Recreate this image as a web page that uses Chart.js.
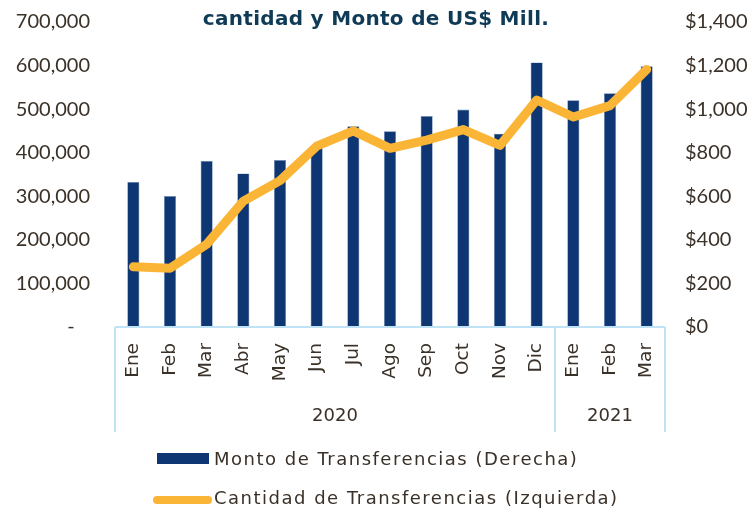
<!DOCTYPE html>
<html>
<head>
<meta charset="utf-8">
<script src="https://cdn.jsdelivr.net/npm/chart.js@4/dist/chart.umd.min.js"></script>
<style>
  html, body { margin: 0; padding: 0; background: #ffffff; }
  #wrap { position: relative; width: 754px; height: 508px; overflow: hidden; }
  canvas { display: block; }
</style>
</head>
<body>
<div id="wrap"><canvas id="c" width="754" height="508"></canvas></div>
<script>
// ---- data ----
const months = ["Ene","Feb","Mar","Abr","May","Jun","Jul","Ago","Sep","Oct","Nov","Dic","Ene","Feb","Mar"];
const years = ["2020","2021"];
const yearSpans = [12, 3];
const montoUSD = [666, 601, 763, 705, 766, 830, 922, 899, 968, 998, 887, 1214, 1041, 1073, 1197];
const cantidad = [138000, 135000, 190000, 289000, 336000, 415000, 450000, 410000, 429000, 453000, 417000, 521000, 482000, 508000, 591000];
const titleText = "cantidad y Monto de US$ Mill.";
const labelMonto = "Monto de Transferencias (Derecha)";
const labelCantidad = "Cantidad de Transferencias (Izquierda)";

const NUMFONT = "Lato, 'Noto Sans', sans-serif";
const WORDFONT = "'DejaVu Sans', 'Noto Sans', sans-serif";
const TEXT = "#3a3128";
const AXIS_LINE = "#bfe2f5";
const NAVY = "#0d3673";
const ORANGE = "#fbb536";

const groupAxisPlugin = {
  id: "groupAxis",
  afterDraw(chart) {
    const ctx = chart.ctx;
    const x = chart.scales.x;
    const area = chart.chartArea;
    const step = x.getPixelForValue(1) - x.getPixelForValue(0);
    const bottom = 432;
    ctx.save();
    ctx.strokeStyle = AXIS_LINE;
    ctx.lineWidth = 2;
    ctx.beginPath();
    ctx.moveTo(area.left, area.bottom);
    ctx.lineTo(area.right, area.bottom);
    let idx = 0;
    const bounds = [x.getPixelForValue(0) - step / 2];
    yearSpans.forEach(n => { idx += n; bounds.push(x.getPixelForValue(idx - 1) + step / 2); });
    bounds.forEach(b => { ctx.moveTo(b, area.bottom); ctx.lineTo(b, bottom); });
    ctx.stroke();
    // year labels
    ctx.fillStyle = TEXT;
    ctx.font = "18px " + WORDFONT;
    ctx.textAlign = "center";
    ctx.textBaseline = "middle";
    years.forEach((y, i) => {
      ctx.fillText(y, (bounds[i] + bounds[i + 1]) / 2, 416);
    });
    // title (visible line)
    ctx.fillStyle = "#0f3b57";
    ctx.font = "bold 20px " + WORDFONT;
    ctx.letterSpacing = "0.3px";
    ctx.fillText(titleText, 376, 20);
    // legend
    ctx.textAlign = "left";
    ctx.fillStyle = NAVY;
    ctx.fillRect(157, 453, 52, 11);
    ctx.strokeStyle = ORANGE;
    ctx.lineWidth = 8;
    ctx.lineCap = "round";
    ctx.beginPath();
    ctx.moveTo(157, 500);
    ctx.lineTo(208, 500);
    ctx.stroke();
    ctx.fillStyle = TEXT;
    ctx.font = "18px " + WORDFONT;
    ctx.letterSpacing = "1.5px";
    ctx.fillText(labelMonto, 214, 460);
    ctx.fillText(labelCantidad, 214, 499);
    ctx.restore();
  }
};

new Chart(document.getElementById("c"), {
  data: {
    labels: months,
    datasets: [
      {
        type: "line",
        label: labelCantidad,
        data: cantidad,
        yAxisID: "y",
        borderColor: ORANGE,
        backgroundColor: ORANGE,
        borderWidth: 9,
        borderCapStyle: "round",
        borderJoinStyle: "round",
        pointRadius: 0,
        tension: 0,
        order: 0
      },
      {
        type: "bar",
        label: labelMonto,
        data: montoUSD,
        yAxisID: "y1",
        backgroundColor: NAVY,
        borderColor: "#6f8fb8",
        borderWidth: 0.6,
        barPercentage: 0.33,
        categoryPercentage: 1.0,
        order: 1
      }
    ]
  },
  options: {
    responsive: false,
    devicePixelRatio: 1,
    animation: false,
    layout: { padding: { top: 22, left: 0, right: 0, bottom: 0 } },
    plugins: { legend: { display: false }, tooltip: { enabled: false }, title: { display: false } },
    scales: {
      x: {
        offset: true,
        grid: { display: false, drawTicks: false },
        border: { display: false },
        ticks: {
          autoSkip: false,
          minRotation: 90,
          maxRotation: 90,
          padding: 16,
          color: TEXT,
          font: { family: WORDFONT, size: 18.5 }
        },
        afterFit(s) { s.height = 181; }
      },
      y: {
        position: "left",
        min: 0, max: 700000,
        grid: { display: true, drawOnChartArea: false, drawTicks: true, tickLength: 16, color: "rgba(0,0,0,0)" },
        border: { display: false },
        ticks: {
          stepSize: 100000,
          padding: 9,
          color: TEXT,
          font: { family: NUMFONT, size: 20 },
          callback: v => v === 0 ? "-   " : v.toLocaleString("en-US")
        },
        afterFit(s) { s.width = 115; }
      },
      y1: {
        position: "right",
        min: 0, max: 1400,
        grid: { display: true, drawOnChartArea: false, drawTicks: true, tickLength: 11, color: "rgba(0,0,0,0)" },
        border: { display: false },
        ticks: {
          stepSize: 200,
          padding: 9,
          color: TEXT,
          font: { family: NUMFONT, size: 20 },
          callback: v => "$" + v.toLocaleString("en-US")
        },
        afterFit(s) { s.width = 89; }
      }
    }
  },
  plugins: [groupAxisPlugin]
});
</script>
</body>
</html>
